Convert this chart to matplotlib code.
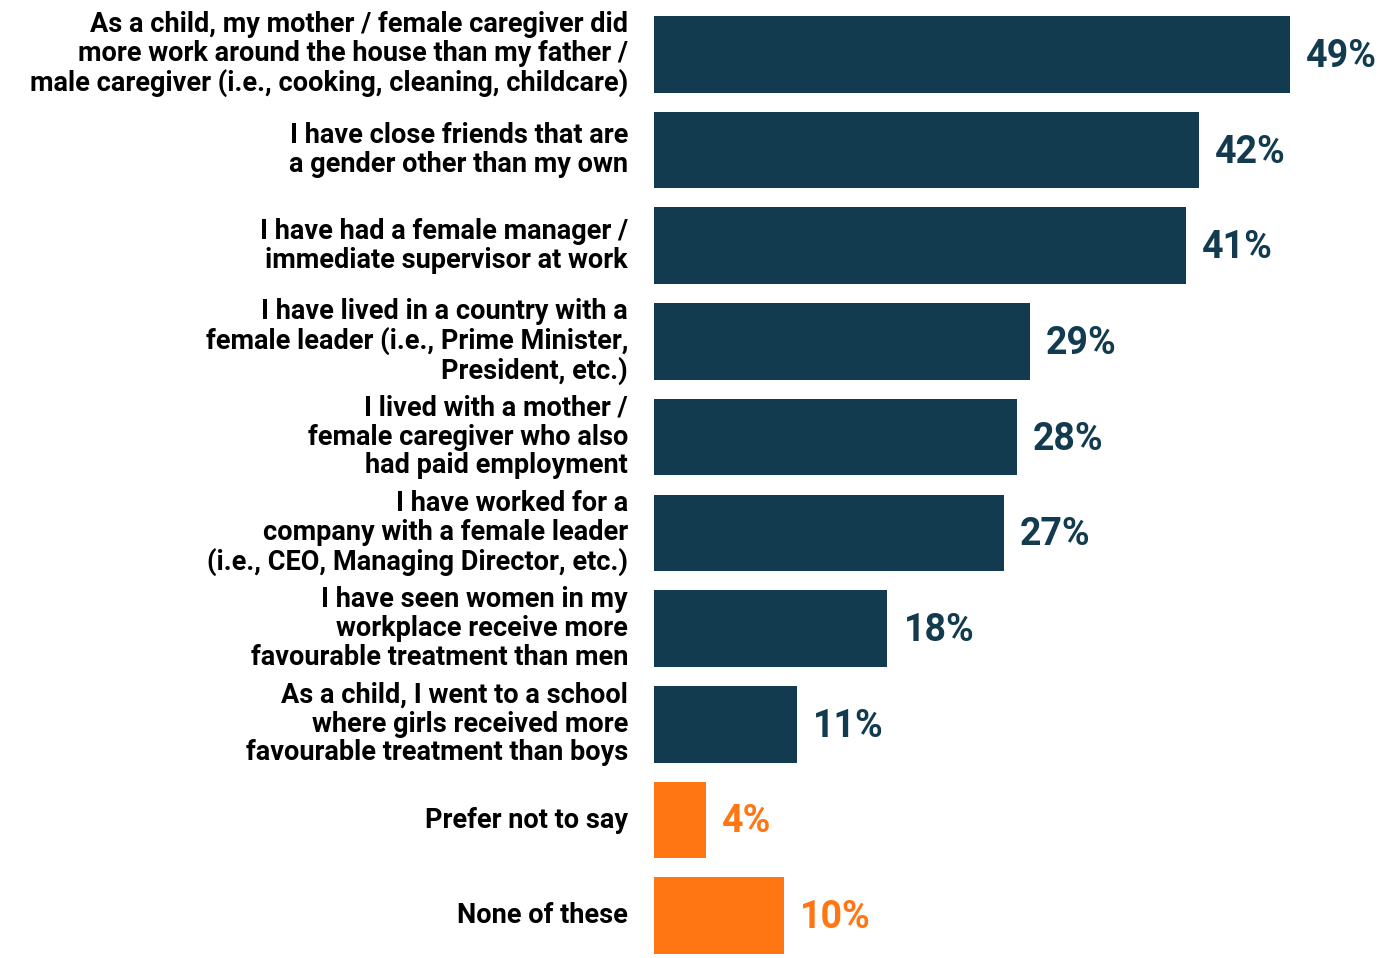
import matplotlib.pyplot as plt
import numpy as np

labels = [
    "As a child, my mother / female caregiver did\nmore work around the house than my father /\nmale caregiver (i.e., cooking, cleaning, childcare)",
    "I have close friends that are\na gender other than my own",
    "I have had a female manager /\nimmediate supervisor at work",
    "I have lived in a country with a\nfemale leader (i.e., Prime Minister,\nPresident, etc.)",
    "I lived with a mother /\nfemale caregiver who also\nhad paid employment",
    "I have worked for a\ncompany with a female leader\n(i.e., CEO, Managing Director, etc.)",
    "I have seen women in my\nworkplace receive more\nfavourable treatment than men",
    "As a child, I went to a school\nwhere girls received more\nfavourable treatment than boys",
    "Prefer not to say",
    "None of these",
]
values = [49, 42, 41, 29, 28, 27, 18, 11, 4, 10]

navy = "#123B50"
orange = "#FF7612"
colors = [navy] * 8 + [orange] * 2

plt.rcParams['font.family'] = ['Roboto', 'DejaVu Sans']

fig = plt.figure(figsize=(13.96, 9.58), dpi=100)
ax = fig.add_axes([654 / 1396, 1 - 954 / 958, 1 - 654 / 1396, (954 - 16) / 958])

y = np.arange(len(values))
ax.barh(y, values, height=0.8, color=colors)
ax.set_ylim(9.4, -0.4)
ax.set_xlim(0, 57.2)

for i, (v, c) in enumerate(zip(values, colors)):
    # value label right of the bar
    ax.annotate(f"{v}%", (v, i), xytext=(16, -2), textcoords="offset pixels",
                ha="left", va="center", fontsize=27, fontweight="bold", color=c)
    # category label left of the axes
    ax.annotate(labels[i], (0, i), xytext=(-26, 0), textcoords="offset pixels",
                ha="right", va="center", fontsize=19.5, fontweight="bold", color="black",
                linespacing=1.08, annotation_clip=False)

ax.axis("off")
fig.savefig("out.png", dpi=100)
